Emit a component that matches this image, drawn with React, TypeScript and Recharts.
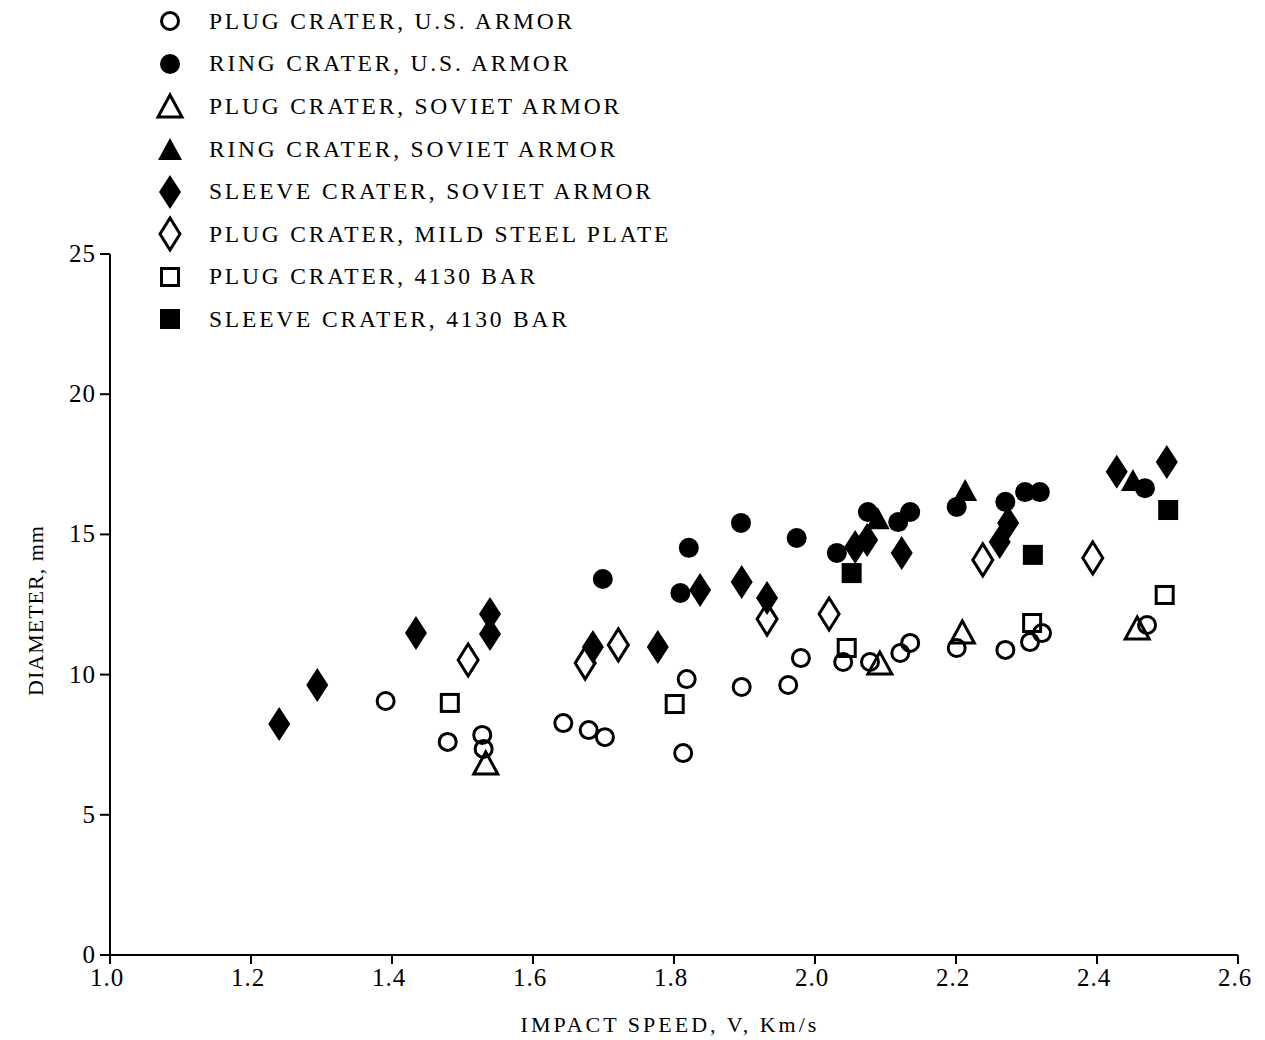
import React from 'react'
import { ScatterChart, Scatter, XAxis, YAxis } from 'recharts'

// speeds (km/s) and crater diameters (mm)
const plugUsX = [1.391, 1.479, 1.528, 1.53, 1.643, 1.679, 1.702, 1.813, 1.818, 1.896, 1.962, 1.98, 2.04, 2.078, 2.121, 2.135, 2.201, 2.27, 2.305, 2.322, 2.471]
const plugUsY = [9.06, 7.6, 7.85, 7.35, 8.27, 8.02, 7.77, 7.2, 9.84, 9.56, 9.63, 10.59, 10.45, 10.45, 10.77, 11.13, 10.95, 10.88, 11.16, 11.48, 11.77]

const ringUsX = [1.699, 1.809, 1.821, 1.895, 1.974, 2.031, 2.075, 2.118, 2.135, 2.201, 2.27, 2.298, 2.319, 2.468]
const ringUsY = [13.41, 12.91, 14.52, 15.41, 14.87, 14.34, 15.8, 15.44, 15.8, 15.98, 16.16, 16.51, 16.51, 16.65]

const plugSovX = [1.533, 2.092, 2.209, 2.457]
const plugSovY = [6.85, 10.41, 11.52, 11.66]

const ringSovX = [2.089, 2.213, 2.451]
const ringSovY = [15.58, 16.58, 16.94]

const sleeveSovX = [1.24, 1.294, 1.434, 1.539, 1.539, 1.685, 1.777, 1.837, 1.896, 1.932, 2.057, 2.074, 2.123, 2.262, 2.274, 2.428, 2.499]
const sleeveSovY = [8.24, 9.63, 11.48, 12.16, 11.45, 10.98, 10.98, 13.02, 13.3, 12.73, 14.55, 14.8, 14.34, 14.73, 15.41, 17.23, 17.58]

const plugMildX = [1.508, 1.674, 1.721, 1.932, 2.02, 2.238, 2.394]
const plugMildY = [10.52, 10.41, 11.06, 11.98, 12.16, 14.09, 14.16]

const plugBarX = [1.482, 1.801, 2.045, 2.308, 2.496]
const plugBarY = [8.99, 8.95, 10.95, 11.84, 12.84]

const sleeveBarX = [2.052, 2.309, 2.501]
const sleeveBarY = [13.62, 14.27, 15.87]

const xTicks = [1.0, 1.2, 1.4, 1.6, 1.8, 2.0, 2.2, 2.4, 2.6]
const yTicks = [0, 5, 10, 15, 20, 25]

type Kind = 'circle' | 'dot' | 'tri' | 'triFill' | 'dia' | 'diaFill' | 'sq' | 'sqFill'

const series: { name: string; kind: Kind; xs: number[]; ys: number[] }[] = [
  { name: 'PLUG CRATER, U.S. ARMOR', kind: 'circle', xs: plugUsX, ys: plugUsY },
  { name: 'RING CRATER, U.S. ARMOR', kind: 'dot', xs: ringUsX, ys: ringUsY },
  { name: 'PLUG CRATER, SOVIET ARMOR', kind: 'tri', xs: plugSovX, ys: plugSovY },
  { name: 'RING CRATER, SOVIET ARMOR', kind: 'triFill', xs: ringSovX, ys: ringSovY },
  { name: 'SLEEVE CRATER, SOVIET ARMOR', kind: 'diaFill', xs: sleeveSovX, ys: sleeveSovY },
  { name: 'PLUG CRATER, MILD STEEL PLATE', kind: 'dia', xs: plugMildX, ys: plugMildY },
  { name: 'PLUG CRATER, 4130 BAR', kind: 'sq', xs: plugBarX, ys: plugBarY },
  { name: 'SLEEVE CRATER, 4130 BAR', kind: 'sqFill', xs: sleeveBarX, ys: sleeveBarY },
]

const FONT = '"Liberation Serif", "DejaVu Serif", serif'

function Mark({ kind, cx, cy }: { kind: Kind; cx: number; cy: number }) {
  const fill = kind === 'dot' || kind === 'triFill' || kind === 'diaFill' || kind === 'sqFill'
  const f = fill ? '#000' : 'none'
  const sw = 3
  if (kind === 'circle' || kind === 'dot') {
    return <circle cx={cx} cy={cy} r={fill ? 10 : 8.5} fill={f} stroke="#000" strokeWidth={fill ? 0 : sw} />
  }
  if (kind === 'tri' || kind === 'triFill') {
    const h = 11
    return (
      <polygon
        points={`${cx},${cy - h} ${cx + 12},${cy + h} ${cx - 12},${cy + h}`}
        fill={f}
        stroke="#000"
        strokeWidth={fill ? 0 : sw}
      />
    )
  }
  if (kind === 'dia' || kind === 'diaFill') {
    const w = fill ? 11 : 10
    const h = fill ? 17 : 16
    return (
      <polygon
        points={`${cx},${cy - h} ${cx + w},${cy} ${cx},${cy + h} ${cx - w},${cy}`}
        fill={f}
        stroke="#000"
        strokeWidth={fill ? 0 : sw}
      />
    )
  }
  const s = fill ? 10 : 8.5
  return <rect x={cx - s} y={cy - s} width={s * 2} height={s * 2} fill={f} stroke="#000" strokeWidth={fill ? 0 : sw} />
}

function XTick({ x, y, payload }: any) {
  return (
    <text x={x - 3} y={y + 20} textAnchor="middle" fontFamily={FONT} fontSize={25} letterSpacing={1} fill="#000">
      {Number(payload.value).toFixed(1)}
    </text>
  )
}

function YTick({ x, y, payload }: any) {
  return (
    <text x={x - 2} y={y + 8} textAnchor="end" fontFamily={FONT} fontSize={25} letterSpacing={1} fill="#000">
      {payload.value}
    </text>
  )
}

function XTitle({ viewBox }: any) {
  const { x, y, width } = viewBox
  return (
    <text x={x + width / 2 - 4} y={y + 77} textAnchor="middle" fontFamily={FONT} fontSize={22} letterSpacing={3} fill="#000">
      IMPACT SPEED, V, Km/s
    </text>
  )
}

function YTitle({ viewBox }: any) {
  const { y, height } = viewBox
  const cx = 27
  const cy = y + height / 2 + 6
  return (
    <text x={cx} y={cy} transform={`rotate(-90 ${cx} ${cy})`} textAnchor="middle" dominantBaseline="central" fontFamily={FONT} fontSize={22} letterSpacing={1} fill="#000">
      DIAMETER, mm
    </text>
  )
}

function LegendBox() {
  return (
    <div style={{ position: 'absolute', left: 147, top: -8, fontFamily: FONT, fontSize: 23.5, letterSpacing: 2.8, color: '#000' }}>
      {series.map((s) => (
        <div key={s.name} style={{ display: 'flex', alignItems: 'center', height: 42.6 }}>
          <svg width={30} height={40} style={{ marginRight: 24 }}>
            <Mark kind={s.kind} cx={15} cy={20} />
          </svg>
          <span>{s.name}</span>
        </div>
      ))}
    </div>
  )
}

export default function App() {
  return (
    <div style={{ position: 'relative', width: 1250, height: 1030, background: '#fff' }}>
      <ScatterChart width={1250} height={1030} margin={{ top: 246, right: 20, bottom: 30, left: 0 }}>
        <XAxis
          type="number"
          dataKey="x"
          domain={[1.0, 2.6]}
          ticks={xTicks}
          axisLine={{ stroke: '#000', strokeWidth: 2 }}
          tickLine={{ stroke: '#000', strokeWidth: 2 }}
          tickSize={9}
          height={53}
          tick={<XTick />}
          label={<XTitle />}
        />
        <YAxis
          type="number"
          dataKey="y"
          domain={[0, 25]}
          ticks={yTicks}
          axisLine={{ stroke: '#000', strokeWidth: 2 }}
          tickLine={{ stroke: '#000', strokeWidth: 2 }}
          tickSize={10}
          width={102}
          tick={<YTick />}
          label={<YTitle />}
        />
        {series.map((s) => (
          <Scatter
            key={s.name}
            name={s.name}
            data={s.xs.map((x, i) => ({ x, y: s.ys[i] }))}
            isAnimationActive={false}
            shape={(p: any) => <Mark kind={s.kind} cx={p.cx} cy={p.cy} />}
          />
        ))}
      </ScatterChart>
      <LegendBox />
    </div>
  )
}
